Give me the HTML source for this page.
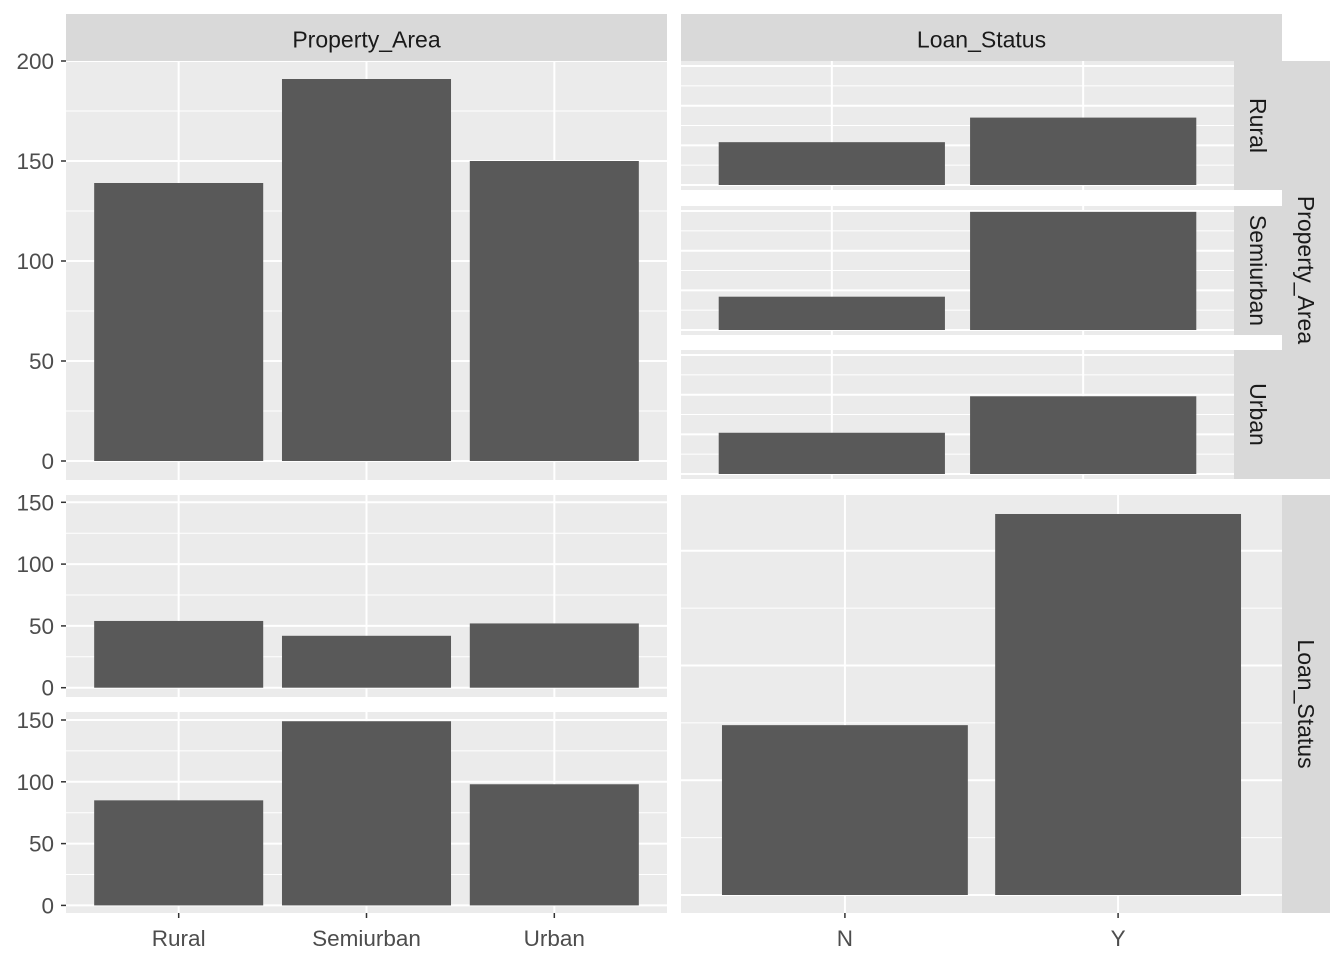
<!DOCTYPE html>
<html><head><meta charset="utf-8"><style>
body{margin:0;background:#fff;width:1344px;height:960px;overflow:hidden}
svg{display:block}
text{font-family:"Liberation Sans",Arial,sans-serif}
</style></head><body>
<svg id="chart" width="1344" height="960" viewBox="0 0 1344 960" xmlns="http://www.w3.org/2000/svg"></svg>
<script>
const areaCats = ["Rural","Semiurban","Urban"];
const statusCats = ["N","Y"];
const areaCounts = [139, 191, 150];
const statusCounts = [148, 332];
const statusN_byArea = [54, 42, 52];
const statusY_byArea = [85, 149, 98];
const areaRural_byStatus = [54, 85];
const areaSemi_byStatus = [42, 149];
const areaUrban_byStatus = [52, 98];
const ticks200 = [0, 50, 100, 150, 200];
const ticks150 = [0, 50, 100, 150];

const svg = document.getElementById('chart');
const NS = 'http://www.w3.org/2000/svg';
function mk(tag, attrs, parent){
  const e = document.createElementNS(NS, tag);
  for (const k in attrs) e.setAttribute(k, attrs[k]);
  (parent||svg).appendChild(e);
  return e;
}
function xPos(x0, w, n, i){ return x0 + w*(i+0.6)/(n+0.2); }

function panel(name, x0, x1, y0, y1, cats, vals, zeroY, k, majors, minors, yTicks, xLabels){
  const g = mk('g', {});
  
  
  const bg = mk('rect', {x:x0, y:y0, width:x1-x0, height:y1-y0, fill:'#ebebeb'}, g);
  
  
  const clipId = 'c' + name;
  const cp = mk('clipPath', {id:clipId}, g);
  mk('rect', {x:x0, y:y0, width:x1-x0, height:y1-y0}, cp);
  const inner = mk('g', {'clip-path':'url(#'+clipId+')'}, g);
  minors.forEach(v => {
    const y = zeroY - v*k;
    const l = mk('line', {x1:x0, x2:x1, y1:y, y2:y, stroke:'#fff', 'stroke-width':1}, inner);
    
    
  });
  majors.forEach(v => {
    const y = zeroY - v*k;
    const l = mk('line', {x1:x0, x2:x1, y1:y, y2:y, stroke:'#fff', 'stroke-width':2}, inner);
    
    
  });
  const w = x1 - x0, n = cats.length;
  cats.forEach((c, i) => {
    const cx = xPos(x0, w, n, i);
    const l = mk('line', {x1:cx, x2:cx, y1:y0, y2:y1, stroke:'#fff', 'stroke-width':2}, inner);
    
    
  });
  const bw = w*0.9/(n+0.2);
  vals.forEach((v, i) => {
    const cx = xPos(x0, w, n, i);
    const r = mk('rect', {x:cx-bw/2, y:zeroY - v*k, width:bw, height:v*k, fill:'#595959'}, inner);
    
    
  });
  if (yTicks) {
    yTicks.forEach(v => {
      const y = zeroY - v*k;
      mk('line', {x1:x0-5, x2:x0, y1:y, y2:y, stroke:'#333', 'stroke-width':1.5}, g);
      const t = mk('text', {x:x0-12, y:y+8, 'text-anchor':'end', 'font-size':22.5, fill:'#4d4d4d'}, g);
      t.textContent = v;
      
      
    });
  }
  if (xLabels) {
    cats.forEach((c, i) => {
      const cx = xPos(x0, w, n, i);
      mk('line', {x1:cx, x2:cx, y1:y1, y2:y1+5, stroke:'#333', 'stroke-width':1.5}, g);
      const t = mk('text', {x:cx, y:946, 'text-anchor':'middle', 'font-size':22.5, fill:'#4d4d4d'}, g);
      t.textContent = c;
      
      
    });
  }
}
function strip(name, x, y, w, h, label, rot){
  const r = mk('rect', {x:x, y:y, width:w, height:h, fill:'#d9d9d9'});
  
  
  const cx = x + w/2, cy = y + h/2;
  const t = mk('text', {x:cx, y:cy+(rot?8:10), 'text-anchor':'middle', 'font-size':23, fill:'#1a1a1a'});
  if (rot) t.setAttribute('transform', 'rotate(90 '+cx+' '+cy+')');
  t.textContent = label;
  
  
}

strip('strip-property-area', 66, 14, 601, 47, 'Property_Area', false);
strip('strip-loan-status', 681, 14, 601, 47, 'Loan_Status', false);

panel('panel-area-counts', 66, 667, 61, 480, areaCats, areaCounts, 461, 2.0, [0,50,100,150,200], [25,75,125,175], ticks200, false);

const kTR = 0.793;
panel('panel-rural-by-status', 681, 1234, 61, 190, statusCats, areaRural_byStatus, 185, kTR, [0,50,100,150], [25,75,125], null, false);
panel('panel-semiurban-by-status', 681, 1234, 206, 335, statusCats, areaSemi_byStatus, 330, kTR, [0,50,100,150], [25,75,125], null, false);
panel('panel-urban-by-status', 681, 1234, 350, 479, statusCats, areaUrban_byStatus, 474, kTR, [0,50,100,150], [25,75,125], null, false);
strip('strip-rural', 1234, 61, 48, 129, 'Rural', true);
strip('strip-semiurban', 1234, 206, 48, 129, 'Semiurban', true);
strip('strip-urban', 1234, 350, 48, 129, 'Urban', true);
strip('strip-property-area-right', 1282, 61, 48, 418, 'Property_Area', true);

const kBL = 1.236;
panel('panel-n-by-area', 66, 667, 495, 697, areaCats, statusN_byArea, 687.7, kBL, ticks150, [25,75,125], ticks150, false);
panel('panel-y-by-area', 66, 667, 712, 913, areaCats, statusY_byArea, 905.4, kBL, ticks150, [25,75,125], ticks150, true);

panel('panel-status-counts', 681, 1282, 495, 913, statusCats, statusCounts, 895, 1.1476, [0,100,200,300], [50,150,250], null, true);
strip('strip-loan-status-right', 1282, 495, 48, 418, 'Loan_Status', true);
</script>
</body></html>
